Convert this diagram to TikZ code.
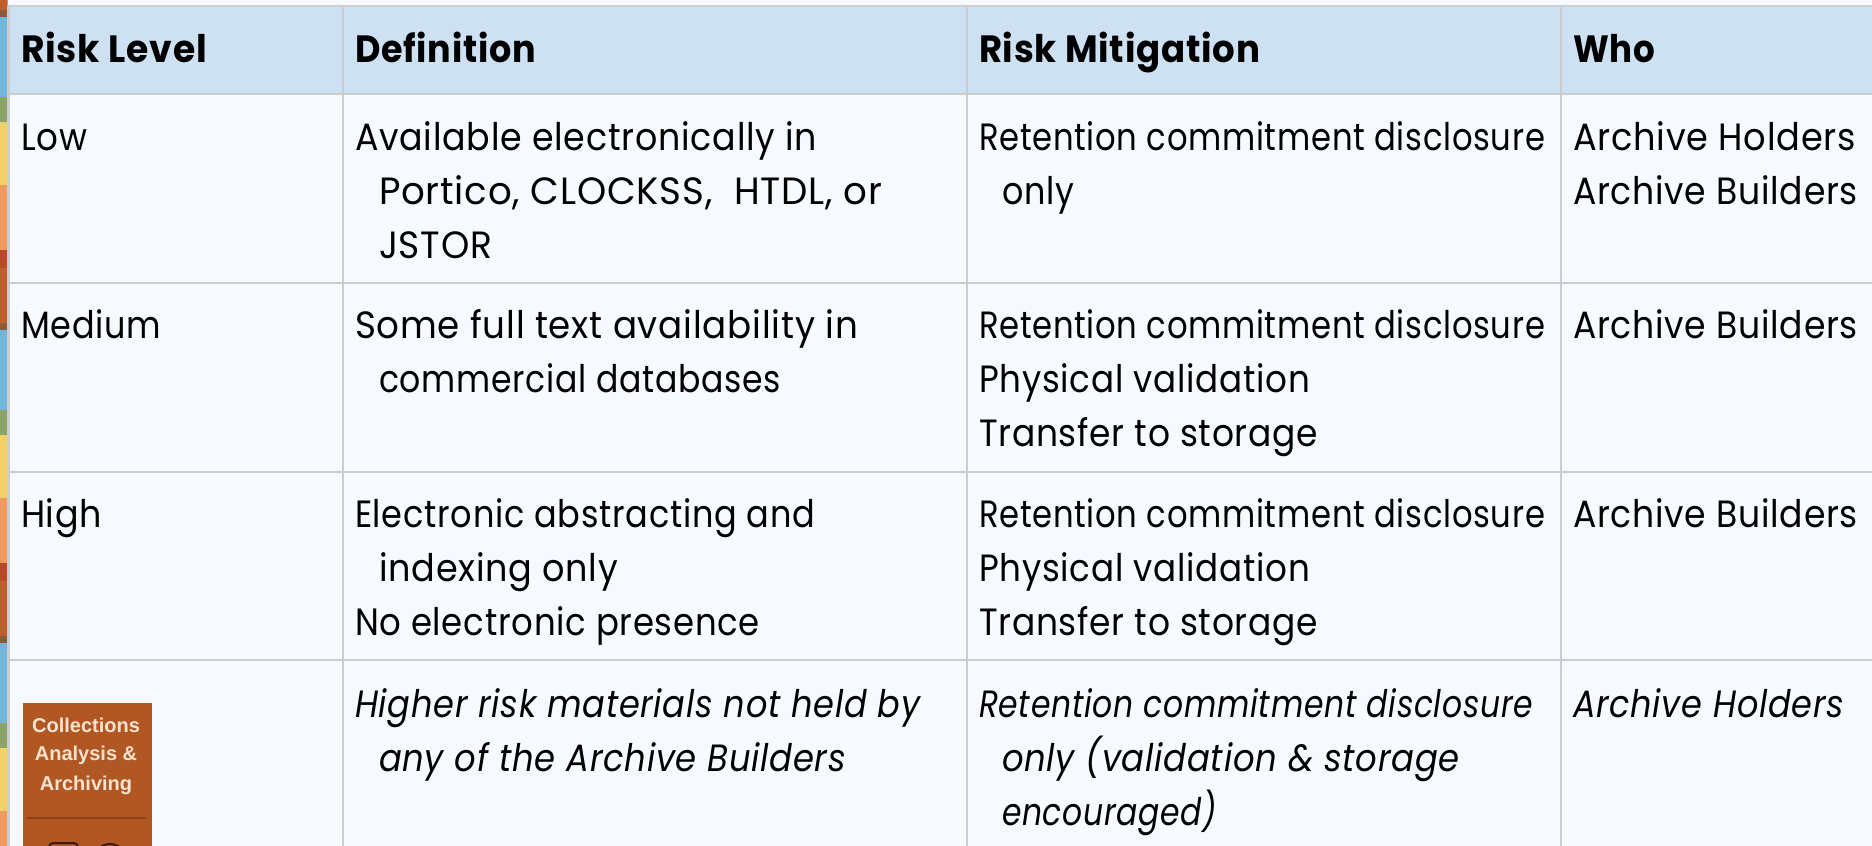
\documentclass[tikz,border=0pt]{standalone}
\usepackage{fontspec}
\usepackage{graphicx}
\setmainfont{Poppins}[FakeStretch=0.9,LetterSpace=2]
\newfontfamily\chipfont{Liberation Sans}
\definecolor{cellbg}{HTML}{F6FAFE}
\definecolor{headbg}{HTML}{CDE1F3}
\definecolor{rulec}{HTML}{CDCDCD}
\definecolor{sBrownO}{HTML}{BD602B}
\definecolor{sBrown}{HTML}{8A5A3A}
\definecolor{sBlue}{HTML}{74B5DC}
\definecolor{sGreen}{HTML}{8CA46A}
\definecolor{sYellow}{HTML}{F3D265}
\definecolor{sOrange}{HTML}{EF9A5E}
\definecolor{sRed}{HTML}{B9482A}
\definecolor{chip}{HTML}{B05724}
\definecolor{chiptxt}{HTML}{FBE3D0}
\definecolor{chipline}{HTML}{8F4015}
\definecolor{chipicon}{HTML}{3B1A0A}
\tikzset{
  cell/.style={anchor=base west,inner sep=0pt,outer sep=0pt,xshift=-1pt,font=\fontsize{38}{38}\selectfont,text=black},
  headcell/.style={cell,font=\fontsize{38}{38}\selectfont\bfseries},
  emcell/.style={cell,font=\fontsize{38}{38}\selectfont\itshape},
  gridline/.style={draw=rulec,line width=2.5pt},
  chiptext/.style={anchor=center,inner sep=0pt,text=chiptxt,font=\chipfont\bfseries\fontsize{20}{20}\selectfont}
}
\newcommand{\fitline}[2]{\resizebox{#1pt}{\height}{#2}}
\newcommand{\stripband}[1]{%
  \fill[sBrownO] (0,#1-55) rectangle (7.5,#1);
  \fill[sBrown] (0,#1) rectangle (7.5,#1+7);
  \fill[sBlue] (0,#1+7) rectangle (7.5,#1+87);
  \fill[sGreen] (0,#1+87) rectangle (7.5,#1+112);
  \fill[sYellow] (0,#1+112) rectangle (7.5,#1+175);
  \fill[sOrange] (0,#1+175) rectangle (7.5,#1+240);
  \fill[sRed] (0,#1+240) rectangle (7.5,#1+258);
}
\begin{document}
\begin{tikzpicture}[x=1pt,y=-1pt]
\useasboundingbox (0,0) rectangle (1872,846);
\fill[cellbg] (0,0) rectangle (1872,846);
\begin{scope}
\clip (0,0) rectangle (7.5,846);
\stripband{10}
\stripband{323}
\stripband{636}
\end{scope}
\fill[headbg] (8,6) rectangle (1872,94);
% grid
\draw[gridline] (8,6) -- (1872,6);
\draw[gridline] (8,94) -- (1872,94);
\draw[gridline] (8,283) -- (1872,283);
\draw[gridline] (8,472) -- (1872,472);
\draw[gridline] (8,660) -- (1872,660);
\draw[gridline] (8.5,6) -- (8.5,846);
\draw[gridline] (343,6) -- (343,846);
\draw[gridline] (967,6) -- (967,846);
\draw[gridline] (1561,6) -- (1561,846);
% header
\node[headcell] (h1) at (22,62) {\fitline{186}{Risk Level}};
\node[headcell] (h2) at (356,62) {\fitline{181}{Definition}};
\node[headcell] (h3) at (980,62) {\fitline{281}{Risk Mitigation}};
\node[headcell] (h4) at (1574,62) {\fitline{82}{Who}};
% row 1
\node[cell] (a1) at (22,150) {\fitline{66}{Low}};
\node[cell] (b1a) at (356,150) {\fitline{462}{Available electronically in}};
\node[cell] (b1b) at (380,204) {\fitline{503}{Portico, CLOCKSS,\ \ HTDL, or}};
\node[cell] (b1c) at (380,258) {\fitline{113}{JSTOR}};
\node[cell] (c1a) at (980,150) {\fitline{566}{Retention commitment disclosure}};
\node[cell] (c1b) at (1003,204) {\fitline{72}{only}};
\node[cell] (d1a) at (1574,150) {\fitline{283}{Archive Holders}};
\node[cell] (d1b) at (1574,204) {\fitline{285}{Archive Builders}};
% row 2
\node[cell] (a2) at (22,338) {\fitline{140}{Medium}};
\node[cell] (b2a) at (356,338) {\fitline{503}{Some full text availability in}};
\node[cell] (b2b) at (380,392) {\fitline{402}{commercial databases}};
\node[cell] (c2a) at (980,338) {\fitline{566}{Retention commitment disclosure}};
\node[cell] (c2b) at (980,392) {\fitline{331}{Physical validation}};
\node[cell] (c2c) at (980,446) {\fitline{339}{Transfer to storage}};
\node[cell] (d2a) at (1574,338) {\fitline{285}{Archive Builders}};
% row 3
\node[cell] (a3) at (22,527) {\fitline{81}{High}};
\node[cell] (b3a) at (356,527) {\fitline{460}{Electronic abstracting and}};
\node[cell] (b3b) at (380,581) {\fitline{239}{indexing only}};
\node[cell] (b3c) at (356,635) {\fitline{405}{No electronic presence}};
\node[cell] (c3a) at (980,527) {\fitline{566}{Retention commitment disclosure}};
\node[cell] (c3b) at (980,581) {\fitline{331}{Physical validation}};
\node[cell] (c3c) at (980,635) {\fitline{339}{Transfer to storage}};
\node[cell] (d3a) at (1574,527) {\fitline{285}{Archive Builders}};
% row 4
\node[emcell] (b4a) at (356,717) {\fitline{565}{Higher risk materials not held by}};
\node[emcell] (b4b) at (380,771) {\fitline{467}{any of the Archive Builders}};
\node[emcell] (c4a) at (980,717) {\fitline{554}{Retention commitment disclosure}};
\node[emcell] (c4b) at (1003,771) {\fitline{458}{only (validation \& storage}};
\node[emcell] (c4c) at (1003,825) {\fitline{215}{encouraged)}};
\node[emcell] (d4a) at (1574,717) {\fitline{271}{Archive Holders}};
% chip
\fill[chip] (23,703) rectangle (152,846);
\node[chiptext] (ch1) at (86,725) {Collections};
\node[chiptext] (ch2) at (86,755) {Analysis \&};
\node[chiptext] (ch3) at (86,785) {Archiving};
\draw[chipline,line width=2.5pt] (27,818) -- (146,818);
\begin{scope}
\clip (23,703) rectangle (152,846);
\draw[chipicon,line width=2pt,rounded corners=4pt] (49,856) rectangle (78,843);
\draw[chipicon,line width=2pt] (110,860) circle (16);
\end{scope}
\end{tikzpicture}
\end{document}
